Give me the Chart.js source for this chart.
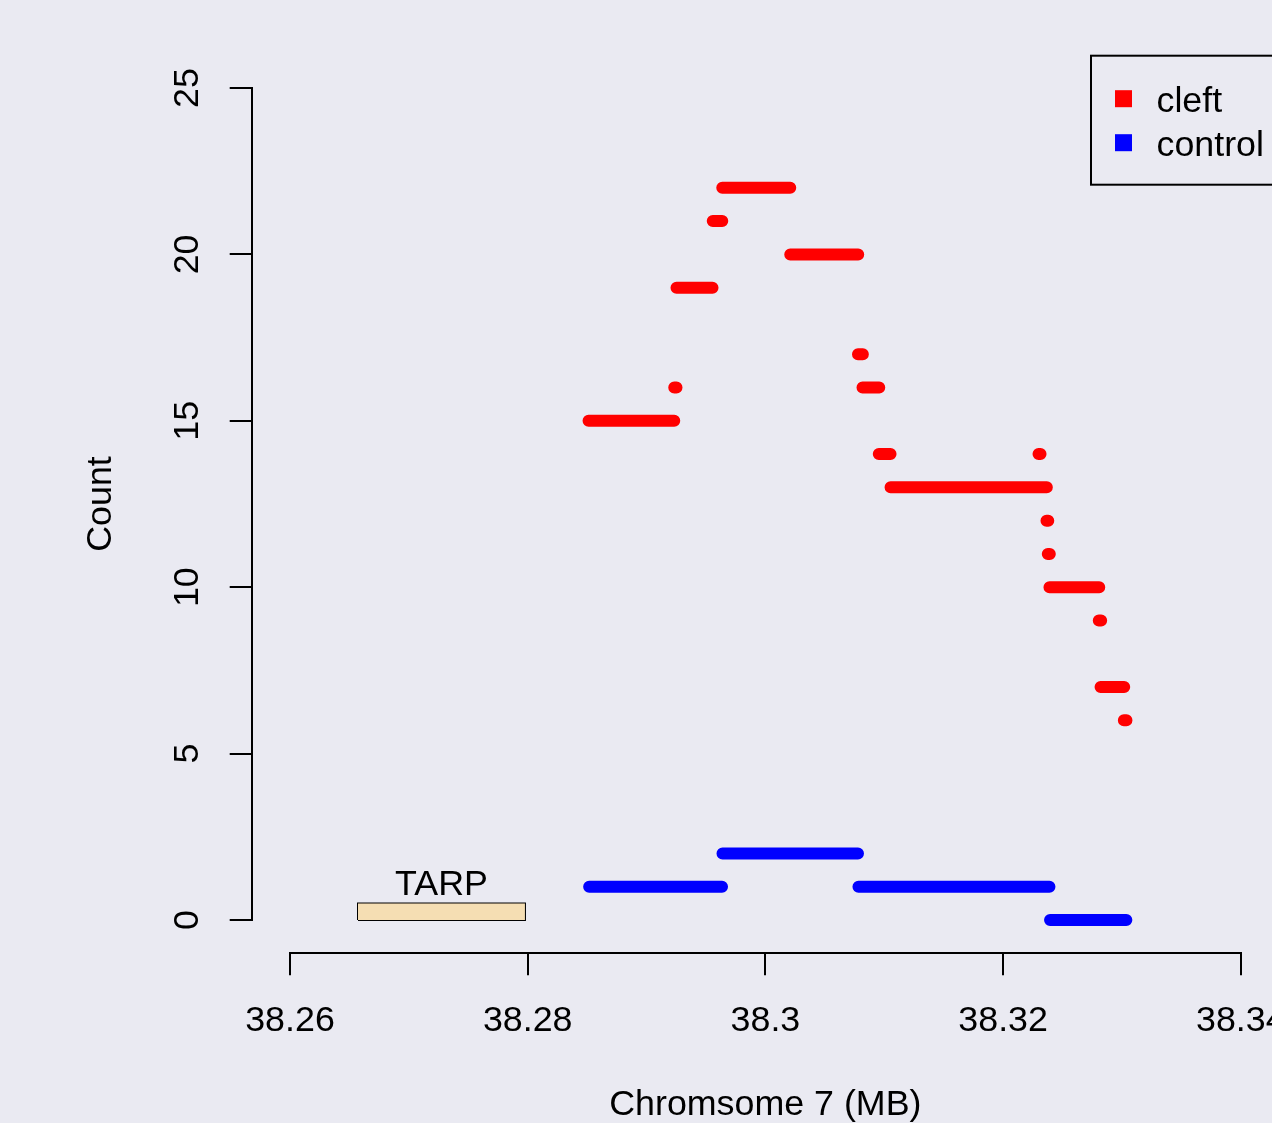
<!DOCTYPE html>
<html>
<head>
<meta charset="utf-8">
<script src="https://cdn.jsdelivr.net/npm/chart.js@4.4.1/dist/chart.umd.min.js"></script>
<style>
  html, body { margin: 0; padding: 0; background: #EAEAF2; overflow: hidden; }
  canvas { display: block; }
</style>
</head>
<body>
<canvas id="countChart" width="1300" height="1123"></canvas>
<script>
// runs of equal count along chromosome 7 (start MB, end MB, count)
const cleftStart = [38.28512, 38.29233, 38.29252, 38.29557, 38.29637, 38.30209, 38.30779, 38.30817, 38.30954, 38.31053, 38.32298, 38.32365, 38.32376, 38.32390, 38.32805, 38.32820, 38.33016];
const cleftEnd   = [38.29233, 38.29252, 38.29555, 38.29637, 38.30209, 38.30781, 38.30820, 38.30958, 38.31053, 38.32368, 38.32315, 38.32380, 38.32393, 38.32809, 38.32825, 38.33019, 38.33038];
const cleftCount = [15, 16, 19, 21, 22, 20, 17, 16, 14, 13, 14, 12, 11, 10, 9, 7, 6];

const controlStart = [38.28517, 38.29639, 38.30783, 38.32395];
const controlEnd   = [38.29635, 38.30779, 38.32390, 38.33037];
const controlCount = [1, 2, 1, 0];

// TARP gene
const tarpStart = 38.26572;
const tarpEnd = 38.27977;
const tarpHeight = 0.5;
const tarpLabelY = 1;

const xTicks = [38.26, 38.28, 38.30, 38.32, 38.34];
const xTickLabels = ['38.26', '38.28', '38.3', '38.32', '38.34'];
const yTicks = [0, 5, 10, 15, 20, 25];

const FONT = "'Liberation Sans', Arial, sans-serif";
const FSIZE = 35.8;

function runsToPoints(starts, ends, counts) {
    const pts = [];
    for (let i = 0; i < starts.length; i++) {
        pts.push({x: starts[i], y: counts[i]});
        pts.push({x: ends[i], y: counts[i]});
        pts.push({x: ends[i], y: null});
    }
    return pts;
}

// axis lines only from first to last tick, like base R
const axisLines = {
    id: 'axisLines',
    afterDraw(chart) {
        const {ctx, chartArea, scales: {x, y}} = chart;
        const bottom = Math.round(chartArea.bottom);
        const left = Math.round(chartArea.left);
        ctx.save();
        ctx.strokeStyle = '#000';
        ctx.lineWidth = 2;
        ctx.beginPath();
        ctx.moveTo(Math.round(x.getPixelForValue(xTicks[0])) - 1, bottom);
        ctx.lineTo(Math.round(x.getPixelForValue(xTicks[xTicks.length - 1])) + 1, bottom);
        ctx.moveTo(left, Math.round(y.getPixelForValue(yTicks[0])) + 1);
        ctx.lineTo(left, Math.round(y.getPixelForValue(yTicks[yTicks.length - 1])) - 1);
        ctx.stroke();

        // TARP label
        ctx.fillStyle = '#000';
        ctx.font = FSIZE + 'px ' + FONT;
        ctx.textAlign = 'center';
        ctx.textBaseline = 'alphabetic';
        ctx.fillText('TARP', x.getPixelForValue((tarpStart + tarpEnd) / 2), y.getPixelForValue(tarpLabelY) + 8.5);
        ctx.restore();
    }
};

// boxed legend in the top right corner
const cornerLegend = {
    id: 'cornerLegend',
    afterDraw(chart) {
        const {ctx, chartArea} = chart;
        const sets = chart.data.datasets.filter(d => d.inLegend);
        const right = chartArea.right;
        const left = right - 188;
        const top = chartArea.top + 1;
        ctx.save();
        ctx.strokeStyle = '#000';
        ctx.lineWidth = 2;
        ctx.strokeRect(left, top, right - left, 129);
        ctx.font = FSIZE + 'px ' + FONT;
        ctx.textBaseline = 'middle';
        ctx.textAlign = 'left';
        sets.forEach((d, i) => {
            const cy = top + 43 + i * 44;
            ctx.fillStyle = d.borderColor;
            ctx.fillRect(left + 24, cy - 8.5, 17, 17);
            ctx.fillStyle = '#000';
            ctx.fillText(d.label, left + 65.5, cy + 3);
        });
        ctx.restore();
    }
};

const ctx = document.getElementById('countChart');
new Chart(ctx, {
    type: 'line',
    data: {
        datasets: [
            {
                label: 'cleft',
                inLegend: true,
                data: runsToPoints(cleftStart, cleftEnd, cleftCount),
                borderColor: '#FF0000',
                borderWidth: 12,
                borderCapStyle: 'round',
                borderJoinStyle: 'round',
                pointRadius: 0,
                spanGaps: false,
                fill: false
            },
            {
                label: 'control',
                inLegend: true,
                data: runsToPoints(controlStart, controlEnd, controlCount),
                borderColor: '#0000FF',
                borderWidth: 12,
                borderCapStyle: 'round',
                borderJoinStyle: 'round',
                pointRadius: 0,
                spanGaps: false,
                fill: false
            },
            {
                label: 'TARP fill',
                data: [{x: tarpStart, y: tarpHeight}, {x: tarpEnd, y: tarpHeight}],
                borderWidth: 0,
                backgroundColor: '#F5DEB3',
                pointRadius: 0,
                fill: 'origin'
            },
            {
                label: 'TARP',
                data: [
                    {x: tarpStart, y: 0}, {x: tarpStart, y: tarpHeight},
                    {x: tarpEnd, y: tarpHeight}, {x: tarpEnd, y: 0}, {x: tarpStart, y: 0}
                ],
                borderColor: '#000',
                borderWidth: 2,
                borderJoinStyle: 'miter',
                pointRadius: 0,
                fill: false
            }
        ]
    },
    options: {
        responsive: false,
        animation: false,
        devicePixelRatio: 1,
        layout: {padding: {left: 0, top: 54.7, right: 21, bottom: 0}},
        plugins: {
            legend: {display: false},
            tooltip: {enabled: false}
        },
        scales: {
            x: {
                type: 'linear',
                position: 'bottom',
                min: 38.2567774,
                max: 38.343214,
                afterBuildTicks: s => { s.ticks = xTicks.map(v => ({value: v})); },
                afterFit: s => {
                    s.height = 169.7;
                    s.paddingLeft = 0;
                    s.paddingRight = 0;
                },
                border: {display: false},
                grid: {drawOnChartArea: false, drawTicks: true, tickLength: 22, color: '#000', lineWidth: 2},
                ticks: {
                    autoSkip: false,
                    maxRotation: 0,
                    padding: 24,
                    color: '#000',
                    font: {family: FONT, size: FSIZE},
                    callback: (v, i) => xTickLabels[i]
                },
                title: {
                    display: true,
                    text: 'Chromsome 7 (MB)',
                    color: '#000',
                    font: {family: FONT, size: FSIZE, lineHeight: 1},
                    padding: 0
                }
            },
            y: {
                type: 'linear',
                position: 'left',
                min: -1,
                max: 26,
                afterBuildTicks: s => { s.ticks = yTicks.map(v => ({value: v})); },
                afterFit: s => {
                    s.width = 251.7;
                    s.paddingTop = 0;
                    s.paddingBottom = 0;
                },
                border: {display: false},
                grid: {drawOnChartArea: false, drawTicks: true, tickLength: 22, color: '#000', lineWidth: 2},
                ticks: {
                    autoSkip: false,
                    minRotation: 90,
                    maxRotation: 90,
                    crossAlign: 'center',
                    padding: 22,
                    color: '#000',
                    font: {family: FONT, size: FSIZE}
                },
                title: {
                    display: true,
                    text: 'Count',
                    color: '#000',
                    font: {family: FONT, size: FSIZE, lineHeight: 1.2},
                    padding: {top: 80, bottom: 0}
                }
            }
        }
    },
    plugins: [axisLines, cornerLegend]
});
</script>
</body>
</html>
